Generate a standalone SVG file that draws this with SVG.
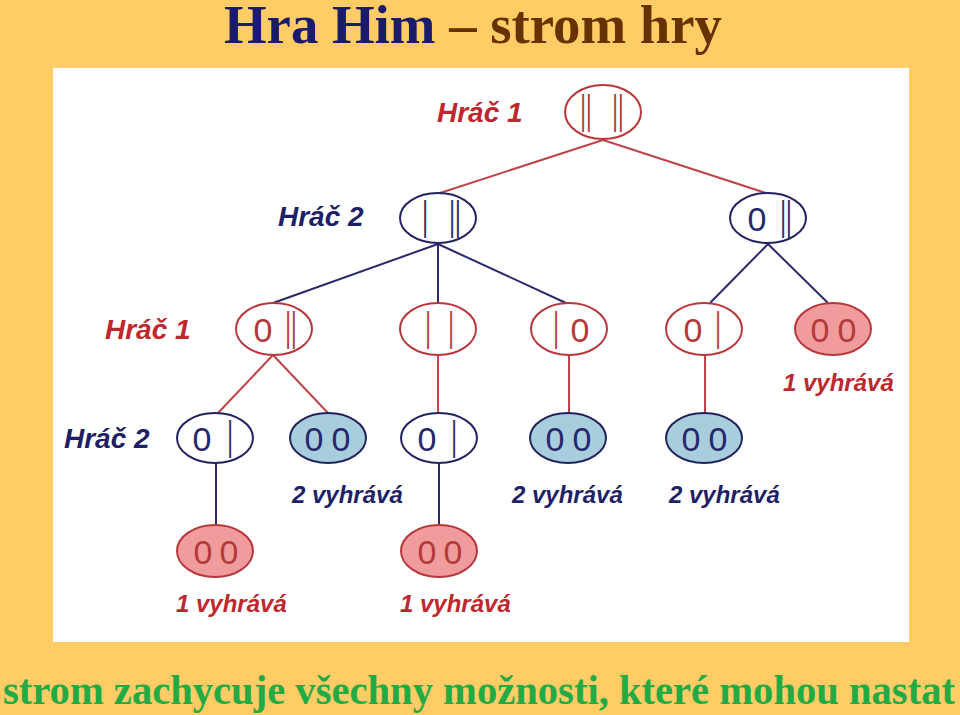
<svg xmlns="http://www.w3.org/2000/svg" width="960" height="715" viewBox="0 0 960 715">
<style>
.lbl{font-family:"Liberation Sans",Arial,sans-serif;font-weight:bold;font-style:italic}
.h{font-size:28px}
.v{font-size:24px}
.g{font-family:"Liberation Sans",Arial,sans-serif;font-size:34px;text-anchor:middle}
.b{font-family:"Liberation Sans",Arial,sans-serif;font-size:40px;text-anchor:middle}
.red{fill:#c0272d}
.navy{fill:#1f1f66}
.gr{fill:#b33a3a}
.gn{fill:#27286b}
.nr{fill:#fff;stroke:#b8373b;stroke-width:2}
.nn{fill:#fff;stroke:#23235f;stroke-width:2}
.pr{fill:#f09c9c;stroke:#b8373b;stroke-width:2}
.bn{fill:#a8cddd;stroke:#23235f;stroke-width:2}
.er{stroke:#c04548;stroke-width:2;fill:none}
.en{stroke:#2a2a6a;stroke-width:2;fill:none}
</style>
<rect x="0" y="0" width="960" height="715" fill="#ffcc66"/>
<rect x="53" y="68" width="856" height="574" fill="#ffffff"/>
<text x="224" y="43" font-family="'Liberation Serif','Times New Roman',serif" font-weight="bold" font-size="54" textLength="498" lengthAdjust="spacingAndGlyphs"><tspan fill="#1b1b6b">Hra Him </tspan><tspan fill="#663300">– strom hry</tspan></text>
<text x="3" y="704" font-family="'Liberation Serif','Times New Roman',serif" font-weight="bold" font-size="43" fill="#22aa44" textLength="952" lengthAdjust="spacingAndGlyphs">strom zachycuje všechny možnosti, které mohou nastat</text>

<g id="connectors">
<line class="er" x1="603" y1="140" x2="440" y2="193"/>
<line class="er" x1="603" y1="140" x2="766" y2="193"/>
<line class="en" x1="438" y1="244" x2="273" y2="303"/>
<line class="en" x1="438" y1="244" x2="438" y2="303"/>
<line class="en" x1="438" y1="244" x2="566" y2="303"/>
<line class="en" x1="768" y1="244" x2="710" y2="303"/>
<line class="en" x1="768" y1="244" x2="828" y2="303"/>
<line class="er" x1="273" y1="355" x2="218" y2="413"/>
<line class="er" x1="273" y1="355" x2="328" y2="413"/>
<line class="er" x1="438" y1="355" x2="438" y2="413"/>
<line class="er" x1="569" y1="355" x2="569" y2="413"/>
<line class="er" x1="705" y1="355" x2="705" y2="413"/>
<line class="en" x1="216" y1="463" x2="216" y2="525"/>
<line class="en" x1="439" y1="463" x2="439" y2="525"/>
</g>

<g id="labels">
<text class="lbl h red" x="437" y="122">Hráč 1</text>
<text class="lbl h navy" x="278" y="226">Hráč 2</text>
<text class="lbl h red" x="105" y="339">Hráč 1</text>
<text class="lbl h navy" x="64" y="448">Hráč 2</text>
<text class="lbl v red" x="783" y="391">1 vyhrává</text>
<text class="lbl v navy" x="292" y="503">2 vyhrává</text>
<text class="lbl v navy" x="512" y="503">2 vyhrává</text>
<text class="lbl v navy" x="669" y="503">2 vyhrává</text>
<text class="lbl v red" x="176" y="612">1 vyhrává</text>
<text class="lbl v red" x="400" y="612">1 vyhrává</text>
</g>

<g id="n_root">
<ellipse class="nr" cx="603" cy="112" rx="38" ry="27"/>
<text class="b gr" transform="scale(0.55 1)" y="124"><tspan x="1065.45">||</tspan><tspan x="1123.64">||</tspan></text>
</g>
<g id="n_2a">
<ellipse class="nn" cx="438" cy="218" rx="38" ry="25"/>
<text class="b gn" transform="scale(0.55 1)" y="230"><tspan x="772.73">|</tspan><tspan x="827.27">||</tspan></text>
</g>
<g id="n_2b">
<ellipse class="nn" cx="768" cy="218" rx="38" ry="25"/>
<text class="g gn" x="757" y="231">0</text>
<text class="b gn" transform="scale(0.55 1)" x="1429.09" y="230">||</text>
</g>
<g id="n_3a">
<ellipse class="nr" cx="274" cy="329" rx="38" ry="26"/>
<text class="g gr" x="263" y="342">0</text>
<text class="b gr" transform="scale(0.55 1)" x="529.09" y="341">||</text>
</g>
<g id="n_3b">
<ellipse class="nr" cx="438" cy="329" rx="38" ry="26"/>
<text class="b gr" transform="scale(0.55 1)" y="341"><tspan x="778.18">|</tspan><tspan x="820">|</tspan></text>
</g>
<g id="n_3c">
<ellipse class="nr" cx="569" cy="329" rx="38" ry="26"/>
<text class="b gr" transform="scale(0.55 1)" x="1010.91" y="341">|</text>
<text class="g gr" x="580" y="342">0</text>
</g>
<g id="n_3d">
<ellipse class="nr" cx="704" cy="329" rx="38" ry="26"/>
<text class="g gr" x="693" y="342">0</text>
<text class="b gr" transform="scale(0.55 1)" x="1305.45" y="341">|</text>
</g>
<g id="n_3e">
<ellipse class="pr" cx="833" cy="329" rx="38" ry="26"/>
<text class="g gr" y="342"><tspan x="820">0</tspan><tspan x="847">0</tspan></text>
</g>
<g id="n_4a">
<ellipse class="nn" cx="215" cy="438" rx="38" ry="25"/>
<text class="g gn" x="202" y="451">0</text>
<text class="b gn" transform="scale(0.55 1)" x="418.18" y="450">|</text>
</g>
<g id="n_4b">
<ellipse class="bn" cx="328" cy="438" rx="38" ry="25"/>
<text class="g gn" y="451"><tspan x="314">0</tspan><tspan x="341">0</tspan></text>
</g>
<g id="n_4c">
<ellipse class="nn" cx="439" cy="438" rx="38" ry="25"/>
<text class="g gn" x="427" y="451">0</text>
<text class="b gn" transform="scale(0.55 1)" x="825.45" y="450">|</text>
</g>
<g id="n_4d">
<ellipse class="bn" cx="568" cy="438" rx="38" ry="25"/>
<text class="g gn" y="451"><tspan x="555">0</tspan><tspan x="582">0</tspan></text>
</g>
<g id="n_4e">
<ellipse class="bn" cx="704" cy="438" rx="38" ry="25"/>
<text class="g gn" y="451"><tspan x="691">0</tspan><tspan x="718">0</tspan></text>
</g>
<g id="n_5a">
<ellipse class="pr" cx="215" cy="551" rx="38" ry="26"/>
<text class="g gr" y="564"><tspan x="203">0</tspan><tspan x="229">0</tspan></text>
</g>
<g id="n_5b">
<ellipse class="pr" cx="439" cy="551" rx="38" ry="26"/>
<text class="g gr" y="564"><tspan x="427">0</tspan><tspan x="453">0</tspan></text>
</g>
</svg>
